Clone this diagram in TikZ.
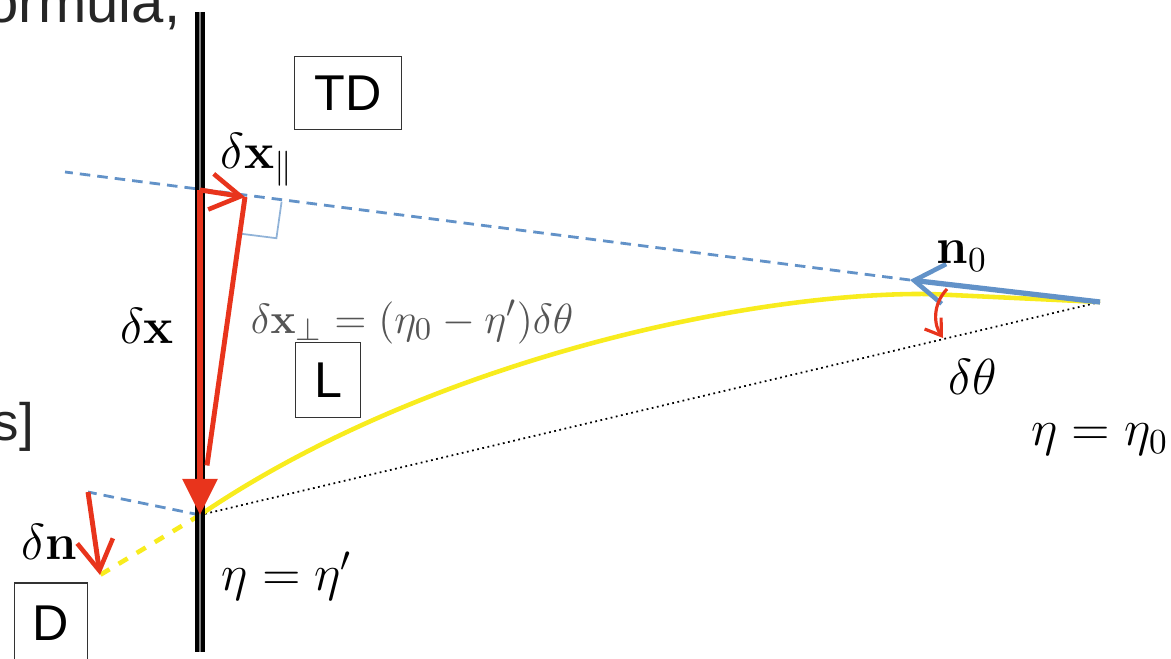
\documentclass[tikz,border=0pt]{standalone}
\usepackage{amsmath}
\usepackage[no-math]{fontspec}
\setmainfont{Liberation Sans}
\usepackage{xcolor}
\definecolor{ArrowRed}{RGB}{232,52,28}
\definecolor{RayBlue}{RGB}{98,146,200}
\definecolor{PathYellow}{RGB}{248,236,30}
\definecolor{FormulaGray}{RGB}{85,85,85}
\usepackage{tikz}
\usetikzlibrary{
    arrows.meta,
    positioning,
    calc
}

\begin{document}
\begin{tikzpicture}[
    x=0.01cm,
    y=-0.01cm,
    wall/.style={
        draw=black,
        line width=0.9pt,
        double=gray,
        double distance=0.8pt
    },
    tag/.style={
        draw=black!80,
        line width=0.5pt,
        inner sep=0pt,
        font=\fontsize{14.3}{16}\selectfont
    },
    slide/.style={
        font=\fontsize{16.5}{19}\selectfont,
        text=black!85,
        inner sep=0pt
    },
    lbl/.style={
        font=\fontsize{14.5}{17}\selectfont,
        inner sep=0pt
    },
    redarrow/.style={
        -{Straight Barb[length=3mm,width=3.6mm,line width=1.3pt]},
        line width=1.4pt,
        color=ArrowRed
    },
    bigarrow/.style={
        -{Triangle[length=3.6mm,width=3.4mm]},
        line width=1.6pt,
        color=ArrowRed
    },
    ray/.style={
        dashed,
        dash pattern=on 3pt off 2pt,
        line width=0.8pt,
        color=RayBlue
    },
    rayarrow/.style={
        -{Straight Barb[length=3mm,width=4mm,line width=1.3pt]},
        line width=1.5pt,
        color=RayBlue
    }
]
\useasboundingbox (0,0) rectangle (1171,658);
%
\coordinate (src) at (1100,302);
\coordinate (obs) at (200,515);
\coordinate (hit) at (200,190);
\coordinate (par) at (245,197);
\coordinate (far) at (65,172);
\coordinate (tip) at (910,280);
\coordinate (dnbase) at (88,492);
\coordinate (tail) at (100,575);
%
\node[slide, anchor=base west] (formula) at (-14,23) {ormula,};
\node[slide, anchor=base west, font=\fontsize{15}{18}\selectfont] (bracket) at (-8,440) {s]};
%
\draw[black, densely dotted, line width=0.5pt] (obs) -- (src);
%
\draw[PathYellow, line width=1.3pt]
    (obs) .. controls (420,365) and (740,292) .. (930,294)
    -- (src);
\draw[PathYellow, line width=1.3pt, dashed] (obs) -- (tail);
%
\draw[ray] (tip) -- (far);
\draw[ray] (obs) -- (dnbase);
\draw[rayarrow] (src) -- (tip);
%
\draw[RayBlue!70, line width=0.5pt]
    (281.6,201.6) -- (276.4,238.2) -- (239.8,233.6);
%
\draw[wall] (200,12) -- (200,652);
%
\draw[ArrowRed, line width=1.4pt, shorten >=5mm] (par) -- (obs);
\draw[bigarrow] (hit) -- (obs);
\draw[redarrow] (hit) -- (par);
\draw[redarrow] (dnbase) -- (tail);
\draw[ArrowRed, line width=0.9pt,
    -{Straight Barb[length=1.5mm,width=2mm]}]
    (947,289) .. controls (932,305) and (934,325) .. (943,338);
%
\node[tag, minimum width=1.07cm, minimum height=0.73cm] (td) at (348,93) {TD};
\node[tag, minimum width=0.65cm, minimum height=0.75cm] (l) at (328,380) {L};
\node[tag, minimum width=0.73cm, minimum height=0.80cm] (d) at (51,623) {D};
%
\node[lbl] (dxpar) at (257,160) {$\delta\mathbf{x}_{\|}$};
\node[lbl] (dx) at (147,326) {$\delta\mathbf{x}$};
\node[lbl, text=FormulaGray, font=\fontsize{13}{15}\selectfont] (dxperp) at (412,322)
    {$\delta\mathbf{x}_\perp = (\eta_0 - \eta')\delta\theta$};
\node[lbl] (n0) at (962,256) {$\mathbf{n}_0$};
\node[lbl] (dtheta) at (973,377) {$\delta\theta$};
\node[lbl] (etazero) at (1100,440) {$\eta = \eta_0$};
\node[lbl] (dn) at (49,542) {$\delta\mathbf{n}$};
\node[lbl] (etaprime) at (287,576) {$\eta = \eta'$};
%
\end{tikzpicture}
\end{document}
